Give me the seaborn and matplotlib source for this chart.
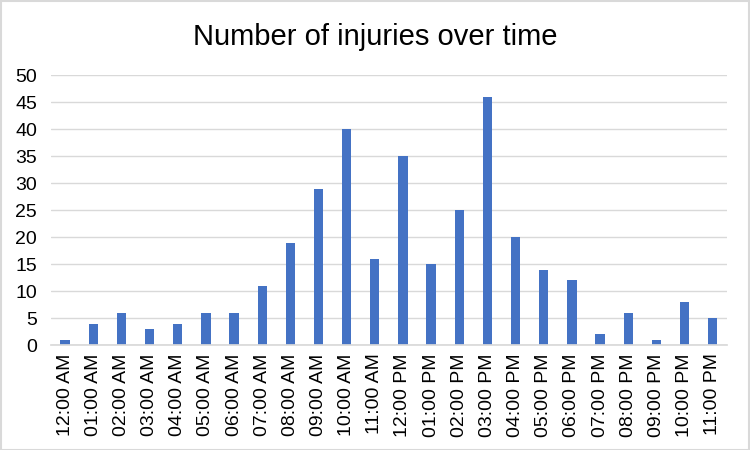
import matplotlib
matplotlib.use("Agg")
import matplotlib.pyplot as plt
import seaborn as sns
import pandas as pd

hours = ["12:00 AM", "01:00 AM", "02:00 AM", "03:00 AM", "04:00 AM", "05:00 AM",
         "06:00 AM", "07:00 AM", "08:00 AM", "09:00 AM", "10:00 AM", "11:00 AM",
         "12:00 PM", "01:00 PM", "02:00 PM", "03:00 PM", "04:00 PM", "05:00 PM",
         "06:00 PM", "07:00 PM", "08:00 PM", "09:00 PM", "10:00 PM", "11:00 PM"]
injuries = [1, 4, 6, 3, 4, 6, 6, 11, 19, 29, 40, 16, 35, 15, 25, 46, 20, 14, 12, 2, 6, 1, 8, 5]
yticks = [0, 5, 10, 15, 20, 25, 30, 35, 40, 45, 50]

sns.set_theme(style="white")
plt.rcParams['font.family'] = ['Liberation Sans', 'DejaVu Sans']

df = pd.DataFrame({"hour": hours, "injuries": injuries})

fig = plt.figure(figsize=(7.5, 4.5), dpi=100)
ax = fig.add_axes([0.068, 0.233, 0.901, 0.6])
sns.barplot(data=df, x="hour", y="injuries", color="#4472C4", width=0.33,
            saturation=1, linewidth=0, ax=ax, zorder=3)
ax.set_ylim(0, 50)
ax.set_yticks(yticks)
ax.set_xlim(-0.5, len(hours) - 0.5)
ax.grid(axis="y", color="#D9D9D9", linewidth=1, zorder=0)
for s in ["top", "right", "left"]:
    ax.spines[s].set_visible(False)
ax.spines["bottom"].set_color("#D9D9D9")
ax.spines["bottom"].set_zorder(4)
ax.set_xlabel("")
ax.set_ylabel("")
ax.tick_params(axis="x", rotation=90, labelsize=14, length=0, colors="black", pad=6)
ax.tick_params(axis="y", labelsize=14, length=0, colors="black", pad=10)
fig.text(0.5, 0.918, "Number of injuries over time", ha="center", va="center",
         fontsize=21, color="black")
fig.patches.append(plt.Rectangle((0.001, 0.001), 0.997, 0.997, transform=fig.transFigure,
                                 fill=False, edgecolor="#D9D9D9", linewidth=1.5))
fig.savefig("out.png", dpi=100)
